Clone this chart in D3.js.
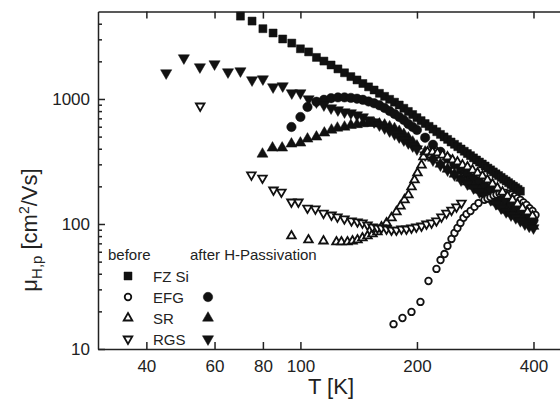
<!DOCTYPE html>
<html>
<head>
<meta charset="utf-8">
<script src="https://cdn.jsdelivr.net/npm/d3@7"></script>
<style>
  body { margin: 0; background: #fff; }
  svg text { font-family: Arial, "Liberation Sans", sans-serif; fill: #222; }
</style>
</head>
<body>
<svg width="560" height="400"></svg>
<script>
// Hall mobility vs temperature

// FZ Si, before only
const fzT = [70, 75, 80, 85, 90, 95, 100, 105, 110, 115, 120, 125, 130, 135, 140, 145, 150, 155, 160, 165,
  170, 175, 180, 185, 190, 195, 200, 205, 210, 215, 220, 225, 230, 235, 240, 245, 250, 255, 260, 265,
  270, 275, 280, 285, 290, 295, 300, 305, 310, 315, 320, 325, 330, 335, 340, 345, 350, 355, 360, 365, 370];
const fzMu = [4600, 4200, 3650, 3370, 3020, 2800, 2520, 2380, 2150, 2010, 1870, 1740, 1620, 1510, 1420, 1330, 1250, 1180, 1110, 1050,
  994, 943, 895, 843, 795, 751, 709, 671, 636, 604, 574, 547, 521, 497, 475, 453, 434, 415, 398, 382,
  366, 352, 338, 325, 313, 302, 291, 280, 271, 261, 252, 244, 236, 228, 221, 214, 207, 201, 195, 189, 183];

// EFG before (open circles)
const efgBeforeT = [174, 183.5, 193.6, 204.2, 214.2, 224.6, 230.1, 235.6, 239.8, 245.6, 250, 254.5, 259.1, 263.8, 268.5,
  275, 281.6, 288.4, 298.9, 304.2, 309.7, 315.4, 321, 326.8, 332.7, 338.6, 344.7, 350.9, 357.2, 363.7, 370.2,
  376.9, 383.7, 390.5, 397.7, 404.9];
const efgBeforeMu = [15.8, 17.7, 19.8, 23.8, 35, 43.7, 51.5, 57.5, 66.7, 75.9, 84.7, 92.9, 102, 112, 120,
  127, 137, 147, 156, 160, 164, 169, 172, 175, 177, 177, 175, 172, 167, 161, 156,
  149, 142, 134, 127, 118];

// EFG after H-passivation (filled circles)
const efgAfterT = [94.8, 100, 104.3, 110, 115, 120, 125, 130, 135, 140, 145, 150, 155, 160, 165, 170, 175, 180, 185, 190, 195,
  200, 210, 220, 230, 240, 250, 260, 270, 280, 290, 300, 310, 320, 330, 340, 350, 360, 370, 380, 390, 400];
const efgAfterMu = [597, 718, 863, 950, 985, 1015, 1030, 1030, 1020, 1005, 985, 955, 925, 890, 847, 801, 759, 718, 679, 631, 597,
  565, 490, 430, 378, 335, 300, 272, 250, 232, 215, 200, 187, 175, 163, 152, 143, 134, 126, 119, 113, 107];

// SR before (open up-triangles)
const srBeforeT = [94.8, 104.9, 114.7, 123.9, 127.6, 132.3, 136.3, 140.4, 144.6, 149, 153.5, 158.1, 161.9, 166.9, 171.9,
  177, 181.3, 185.7, 190.1, 193.6, 197.1, 200.6, 205.5, 207.9, 212.9, 219.4, 225.9, 232.8, 239.8, 247.1,
  254.5, 262.2, 270.1, 278.3, 286.7, 295.3, 304.2, 313.4, 322.8, 332.7, 342.7, 353, 363.7, 374.6, 386, 397.7];
const srBeforeMu = [80.2, 74.5, 73.1, 71.8, 71.8, 71.8, 73.1, 74.5, 77.3, 80.2, 83.2, 86.3, 94.6, 102, 112,
  125, 139, 156, 171, 198, 225, 256, 296, 344, 377, 377, 370, 356, 344, 325,
  313, 296, 286, 270, 256, 242, 225, 209, 194, 180, 167, 156, 145, 134, 125, 116];

// SR after H-passivation (filled up-triangles)
const srAfterT = [79.8, 84.7, 89.7, 94.8, 100, 104.3, 110, 115.3, 120.3, 124.6, 130, 135, 140, 145, 150, 155, 160, 165, 170,
  175, 180, 185, 190, 195, 200, 210, 220, 230, 240, 250, 260, 270, 280, 290, 300, 310, 320, 330, 340, 350,
  360, 370, 380, 390, 400];
const srAfterMu = [363, 406, 406, 437, 445, 479, 497, 535, 565, 586, 597, 615, 625, 635, 640, 640, 632, 620, 600,
  580, 552, 522, 488, 453, 421, 377, 337, 302, 275, 251, 233, 217, 201, 187, 174, 161, 150, 139, 129, 122,
  116, 110, 104, 100, 96];

// RGS before (open down-triangles)
const rgsBeforeT = [55.1, 74.7, 79.8, 85.2, 89.3, 94.8, 98.8, 104.3, 109.3, 114.7, 120.3, 124.6, 129.9, 135.5, 140.4,
  144.6, 149, 153.5, 158.1, 161.9, 166.9, 171.9, 177, 182.4, 187.9, 193.6, 199.3, 205.5, 211.7, 218.1,
  224.6, 231.4, 238.4, 245.6, 253, 260.6];
const rgsBeforeMu = [879, 247, 233, 187, 180, 150, 150, 134, 132, 122, 118, 114, 110, 106, 104,
  102, 98.2, 94.6, 92.9, 92.9, 91.2, 89.5, 89.5, 91.2, 91.2, 92.9, 94.6, 96.4, 100, 102,
  106, 114, 122, 129, 137, 147];

// RGS after H-passivation (filled down-triangles)
const rgsAfterT = [45, 50, 55, 60, 65, 70, 75, 80, 85, 90, 95, 100, 105, 110, 115, 120, 125, 130, 135, 140, 145, 150,
  155, 160, 165, 170, 175, 180, 185, 190, 195, 200, 210, 220, 230, 240, 250, 260, 270, 280, 290, 300,
  310, 320, 330, 340, 350, 360, 370, 380, 390, 400];
const rgsAfterMu = [1614, 2128, 1803, 1905, 1644, 1675, 1419, 1445, 1247, 1271, 1117, 1117, 1000, 946, 895, 847, 817, 787, 773, 745, 718, 679,
  655, 619, 586, 555, 525, 497, 470, 445, 421, 398, 356, 325, 296, 270, 247, 225, 209, 194, 180, 167,
  156, 145, 134, 125, 118, 112, 106, 100, 96, 93];

const xTicks = [40, 60, 80, 100, 200, 400];
const yTicks = [10, 100, 1000];
const yMinor = [20, 30, 40, 50, 60, 70, 80, 90, 200, 300, 400, 500, 600, 700, 800, 900, 2000, 3000, 4000];

const svg = d3.select("svg");

const x = d3.scaleLog().domain([30, 500]).range([98, 571]);
const y = d3.scaleLog().domain([10, 5000]).range([349, 11.6]);

// axes
const styleAxis = g => {
  g.selectAll("path, line").attr("stroke", "#222").attr("stroke-width", 1.5);
  g.selectAll("text").attr("font-size", 17).attr("fill", "#222");
};

svg.append("g")
  .attr("transform", "translate(0,349)")
  .call(d3.axisBottom(x).tickValues(xTicks).tickFormat(d3.format("d"))
    .tickSizeInner(-7).tickSizeOuter(0).tickPadding(11))
  .call(styleAxis);

svg.append("g")
  .attr("transform", "translate(0,11.6)")
  .call(d3.axisTop(x).tickValues(xTicks).tickFormat("")
    .tickSizeInner(-7).tickSizeOuter(0))
  .call(styleAxis);

svg.append("g")
  .attr("transform", "translate(98,0)")
  .call(d3.axisLeft(y).tickValues(yTicks).tickFormat(d3.format("d"))
    .tickSizeInner(-7).tickSizeOuter(0).tickPadding(8))
  .call(styleAxis);

svg.append("g")
  .attr("transform", "translate(98,0)")
  .call(d3.axisLeft(y).tickValues(yMinor).tickFormat("")
    .tickSizeInner(-4).tickSizeOuter(0))
  .call(styleAxis)
  .select(".domain").remove();

svg.selectAll(".tick text").attr("font-family", "Arial, 'Liberation Sans', sans-serif");

// axis titles
svg.append("text")
  .attr("x", 331).attr("y", 394)
  .attr("text-anchor", "middle")
  .attr("font-size", 22)
  .text("T [K]");

const yl = svg.append("text")
  .attr("transform", "translate(37,230) rotate(-90)")
  .attr("text-anchor", "middle")
  .attr("font-size", 22);
yl.append("tspan").text("\u03bc");
yl.append("tspan").attr("font-size", 15).attr("dy", 5).text("H,p");
yl.append("tspan").attr("dy", -5).text(" [cm");
yl.append("tspan").attr("font-size", 14).attr("dy", -8).text("2");
yl.append("tspan").attr("dy", 8).text("/Vs]");

// marker styles
const markers = {
  square: { type: d3.symbolSquare, size: 64, filled: true, rot: 0 },
  dot: { type: d3.symbolCircle, size: 70, filled: true, rot: 0 },
  ring: { type: d3.symbolCircle, size: 34, filled: false, rot: 0 },
  up: { type: d3.symbolTriangle, size: 52, filled: true, rot: 0 },
  upOpen: { type: d3.symbolTriangle, size: 32, filled: false, rot: 0 },
  down: { type: d3.symbolTriangle, size: 54, filled: true, rot: 180 },
  downOpen: { type: d3.symbolTriangle, size: 32, filled: false, rot: 180 }
};

const drawMarker = (sel, m) => sel
  .attr("d", d3.symbol(m.type, m.size))
  .attr("fill", m.filled ? "#111" : "#fff")
  .attr("stroke", "#111")
  .attr("stroke-width", m.filled ? 0.5 : 1.8);

const series = [
  { T: fzT, mu: fzMu, m: markers.square },
  { T: efgAfterT, mu: efgAfterMu, m: markers.dot },
  { T: srAfterT, mu: srAfterMu, m: markers.up },
  { T: rgsAfterT, mu: rgsAfterMu, m: markers.down },
  { T: efgBeforeT, mu: efgBeforeMu, m: markers.ring },
  { T: srBeforeT, mu: srBeforeMu, m: markers.upOpen },
  { T: rgsBeforeT, mu: rgsBeforeMu, m: markers.downOpen }
];

series.forEach(s => {
  const pts = s.T.map((t, i) => ({ t, v: s.mu[i] }));
  svg.append("g")
    .selectAll("path")
    .data(pts)
    .join("path")
    .call(drawMarker, s.m)
    .attr("transform", d => `translate(${x(d.t)},${y(d.v)}) rotate(${s.m.rot})`);
});

// legend
const legend = svg.append("g").attr("font-size", 15);
legend.append("text").attr("x", 108).attr("y", 260).text("before");
legend.append("text").attr("x", 190).attr("y", 260).text("after H-Passivation");

const legendRows = [
  { label: "FZ Si", before: markers.square, after: null },
  { label: "EFG", before: markers.ring, after: markers.dot },
  { label: "SR", before: markers.upOpen, after: markers.up },
  { label: "RGS", before: markers.downOpen, after: markers.down }
];
const rowY = [276, 297, 318, 339];

legendRows.forEach((r, i) => {
  legend.append("path").call(drawMarker, r.before)
    .attr("transform", `translate(128,${rowY[i]}) rotate(${r.before.rot})`);
  legend.append("text").attr("x", 153).attr("y", rowY[i] + 5.5).text(r.label);
  if (r.after) {
    legend.append("path").call(drawMarker, r.after)
      .attr("transform", `translate(208,${rowY[i]}) rotate(${r.after.rot})`);
  }
});
</script>
</body>
</html>
